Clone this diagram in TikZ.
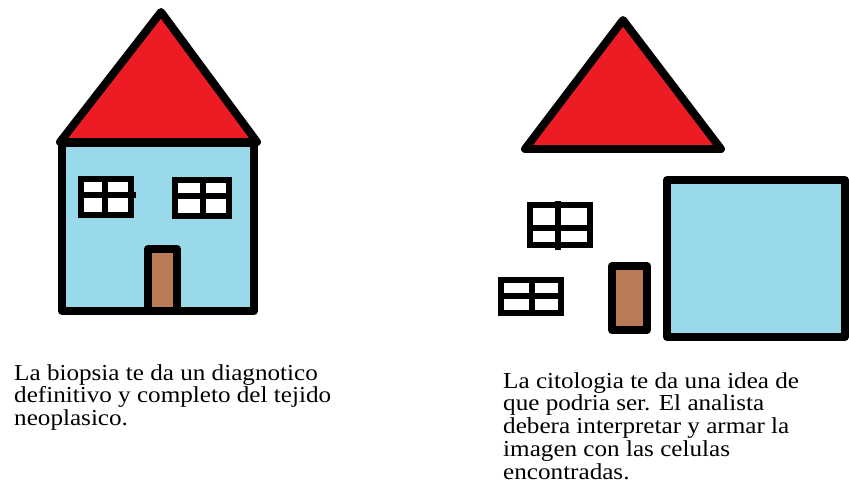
\documentclass[tikz,border=0pt]{standalone}
\usepackage{fontspec}
\setmainfont[FakeStretch=1.1]{Liberation Serif}
\definecolor{techo}{HTML}{ED1C24}
\definecolor{pared}{HTML}{99D9EA}
\definecolor{puerta}{HTML}{B97A57}

\begin{document}
\begin{tikzpicture}[x=0.03cm,y=-0.03cm,
    trazo/.style={line width=6.8pt,line join=round},
    marco/.style={line width=5.8pt,fill=white},
    texto/.style={anchor=north west,align=left,inner sep=0pt,
        font=\fontsize{19.5}{19.4}\selectfont}]
    \useasboundingbox (0,0) rectangle (849,484);
    % la casa armada (biopsia)
    \draw[trazo,fill=techo] (161,12) -- (60,142) -- (257,142) -- cycle;
    \draw[trazo,fill=pared] (62,143) rectangle (254,311);
    \draw[marco] (81,179) rectangle (131,215);
    \draw[marco] (105,179) -- (105,218) (81,195) -- (136,195);
    \draw[marco] (175,180) rectangle (229,216);
    \draw[marco] (203,180) -- (203,219) (175,196) -- (229,196);
    \draw[trazo,fill=puerta] (148,249) rectangle (177,311);
    % la casa en piezas (citologia)
    \draw[trazo,fill=techo] (623,20) -- (525,149) -- (721,149) -- cycle;
    \draw[trazo,fill=pared] (667,180) rectangle (845,337);
    \draw[marco] (530,205) rectangle (590,245);
    \draw[marco] (558,201) -- (558,250) (530,228) -- (590,228);
    \draw[marco] (501,280) rectangle (561,313);
    \draw[marco] (532,280) -- (532,313) (498,296) -- (561,296);
    \draw[trazo,fill=puerta] (612,266) rectangle (647,330);
    % textos
    \node[texto] (biopsia) at (14,364) {La biopsia te da un diagnotico\\definitivo y completo del tejido\\neoplasico.};
    \node[texto] (citologia) at (503,372) {La citologia te da una idea de\\que podria ser. El analista\\debera interpretar y armar la\\imagen con las celulas\\encontradas.};
\end{tikzpicture}
\end{document}
